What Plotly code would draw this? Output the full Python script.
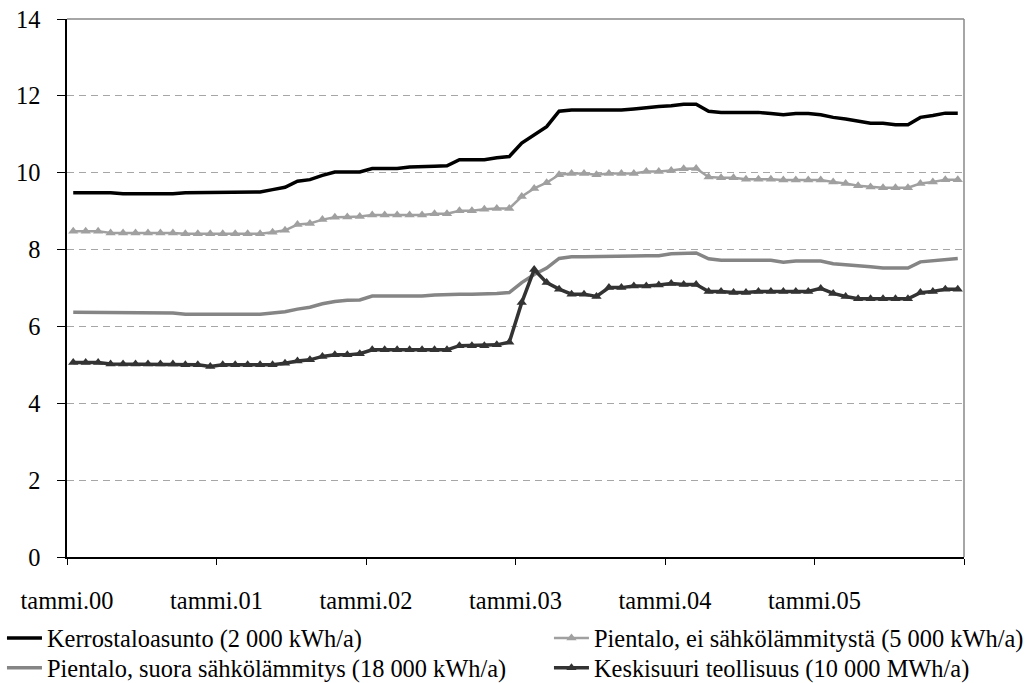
import plotly.graph_objects as go

# ---- data ----
month_names = ["tammi", "helmi", "maalis", "huhti", "touko", "kesä",
               "heinä", "elo", "syys", "loka", "marras", "joulu"]
years = ["00", "01", "02", "03", "04", "05"]
months = [f"{m}.{y}" for y in years for m in month_names]

kerrostalo = [9.48, 9.48, 9.48, 9.48, 9.45, 9.45, 9.45, 9.45, 9.45, 9.48, 9.48, 9.48,
              9.48, 9.50, 9.50, 9.50, 9.56, 9.62, 9.78, 9.82, 9.93, 10.02, 10.02, 10.02,
              10.11, 10.11, 10.11, 10.15, 10.15, 10.17, 10.18, 10.34, 10.34, 10.34, 10.39, 10.42,
              10.77, 10.99, 11.20, 11.60, 11.63, 11.63, 11.63, 11.63, 11.63, 11.66, 11.70, 11.72,
              11.74, 11.78, 11.78, 11.60, 11.57, 11.57, 11.57, 11.57, 11.54, 11.51, 11.54, 11.54,
              11.51, 11.44, 11.40, 11.34, 11.29, 11.29, 11.25, 11.25, 11.44, 11.49, 11.55, 11.55]

pientalo_ei = [8.48, 8.48, 8.48, 8.43, 8.43, 8.43, 8.43, 8.43, 8.43, 8.41, 8.41, 8.41,
               8.41, 8.41, 8.41, 8.41, 8.45, 8.50, 8.65, 8.68, 8.78, 8.84, 8.85, 8.86,
               8.90, 8.90, 8.90, 8.90, 8.90, 8.93, 8.93, 9.01, 9.01, 9.05, 9.07, 9.07,
               9.38, 9.59, 9.74, 9.95, 9.98, 9.98, 9.95, 9.98, 9.98, 9.98, 10.03, 10.03,
               10.06, 10.10, 10.11, 9.89, 9.87, 9.87, 9.83, 9.83, 9.83, 9.81, 9.81, 9.81,
               9.81, 9.76, 9.72, 9.66, 9.63, 9.61, 9.61, 9.61, 9.72, 9.76, 9.82, 9.82]

pientalo_suora = [6.37, 6.37, 6.37, 6.37, 6.37, 6.35, 6.35, 6.35, 6.35, 6.32, 6.32, 6.32,
                  6.32, 6.32, 6.32, 6.32, 6.35, 6.38, 6.45, 6.50, 6.59, 6.65, 6.68, 6.69,
                  6.79, 6.79, 6.79, 6.79, 6.79, 6.82, 6.84, 6.84, 6.84, 6.84, 6.86, 6.88,
                  7.14, 7.35, 7.52, 7.77, 7.81, 7.81, 7.81, 7.81, 7.81, 7.83, 7.84, 7.84,
                  7.89, 7.91, 7.91, 7.76, 7.72, 7.72, 7.72, 7.72, 7.72, 7.67, 7.70, 7.70,
                  7.70, 7.63, 7.61, 7.59, 7.55, 7.52, 7.52, 7.52, 7.68, 7.71, 7.74, 7.77]

keskisuuri = [5.06, 5.06, 5.06, 5.02, 5.02, 5.02, 5.02, 5.02, 5.02, 5.00, 5.00, 4.96,
              5.00, 5.00, 5.00, 5.00, 5.00, 5.04, 5.10, 5.13, 5.22, 5.26, 5.26, 5.29,
              5.39, 5.39, 5.39, 5.39, 5.39, 5.39, 5.39, 5.50, 5.50, 5.50, 5.52, 5.59,
              6.62, 7.48, 7.14, 6.97, 6.84, 6.84, 6.78, 7.01, 7.01, 7.05, 7.05, 7.08,
              7.12, 7.09, 7.09, 6.91, 6.91, 6.88, 6.88, 6.91, 6.91, 6.91, 6.91, 6.91,
              6.99, 6.86, 6.78, 6.72, 6.72, 6.72, 6.72, 6.72, 6.88, 6.91, 6.97, 6.97]

series_names = ["Kerrostaloasunto (2 000 kWh/a)",
                "Pientalo, ei sähkölämmitystä (5 000 kWh/a)",
                "Pientalo, suora sähkölämmitys (18 000 kWh/a)",
                "Keskisuuri teollisuus (10 000 MWh/a)"]

year_labels = ["tammi.00", "tammi.01", "tammi.02", "tammi.03", "tammi.04", "tammi.05", ""]
y_ticks = [0, 2, 4, 6, 8, 10, 12, 14]

# ---- figure ----
x_idx = list(range(len(months)))
tick_pos = [i * 12 - 0.5 for i in range(len(year_labels))]

FONT = "Liberation Serif, Times New Roman, DejaVu Serif, serif"
FS = 24.4
fig = go.Figure()
fig.add_trace(go.Scatter(x=x_idx, y=kerrostalo, name=series_names[0], mode="lines",
                         text=months, legend="legend",
                         line=dict(color="#000000", width=3.5)))
fig.add_trace(go.Scatter(x=x_idx, y=pientalo_ei, name=series_names[1], mode="lines+markers",
                         text=months, legend="legend2",
                         line=dict(color="#a0a0a0", width=2.5),
                         marker=dict(symbol="triangle-up", size=9, color="#a0a0a0")))
fig.add_trace(go.Scatter(x=x_idx, y=pientalo_suora, name=series_names[2], mode="lines",
                         text=months, legend="legend3",
                         line=dict(color="#858585", width=3.5)))
fig.add_trace(go.Scatter(x=x_idx, y=keskisuuri, name=series_names[3], mode="lines+markers",
                         text=months, legend="legend4",
                         line=dict(color="#333333", width=3.5),
                         marker=dict(symbol="triangle-up", size=9, color="#333333")))

legend_common = dict(orientation="v", xanchor="left", yanchor="middle",
                     font=dict(family=FONT, size=FS, color="black"),
                     bgcolor="rgba(0,0,0,0)", itemwidth=35, tracegroupgap=0,
                     borderwidth=0)

row1_y = -0.1506
row2_y = -0.2063
col1_x = -0.0725
col2_x = 0.5373

fig.update_layout(
    width=1029, height=683,
    margin=dict(l=67, r=65, t=19, b=126, autoexpand=False),
    paper_bgcolor="white", plot_bgcolor="white",
    font=dict(family=FONT, size=FS, color="black"),
    showlegend=True,
    legend=dict(x=col1_x, y=row1_y, **legend_common),
    legend2=dict(x=col2_x, y=row1_y, **legend_common),
    legend3=dict(x=col1_x, y=row2_y, **legend_common),
    legend4=dict(x=col2_x, y=row2_y, **legend_common),
    xaxis=dict(range=[-0.5, len(months) - 0.5], tickmode="array",
               tickvals=tick_pos, ticktext=year_labels,
               showgrid=False, zeroline=False,
               showline=True, linecolor="black", linewidth=1.5,
               ticks="outside", ticklen=6, tickcolor="black", tickwidth=1,
               ticklabelstandoff=15,
               tickfont=dict(family=FONT, size=FS, color="black")),
    yaxis=dict(range=[0, 14], tickmode="array", tickvals=y_ticks,
               showgrid=True, gridcolor="#a6a6a6", gridwidth=1, griddash="7px,5px",
               zeroline=False,
               showline=True, linecolor="black", linewidth=1.5,
               ticks="outside", ticklen=8, tickcolor="black", tickwidth=1,
               ticklabelstandoff=12,
               tickfont=dict(family=FONT, size=FS, color="black")),
    shapes=[
        dict(type="line", xref="paper", yref="paper", x0=0, x1=1, y0=1, y1=1,
             line=dict(color="#888888", width=1.5)),
        dict(type="line", xref="paper", yref="paper", x0=1, x1=1, y0=0, y1=1,
             line=dict(color="#888888", width=1.5)),
    ],
)

fig.write_html("out.html",
               config={"displayModeBar": False},
               post_script="document.body.style.margin='0';document.body.style.overflow='hidden';")
